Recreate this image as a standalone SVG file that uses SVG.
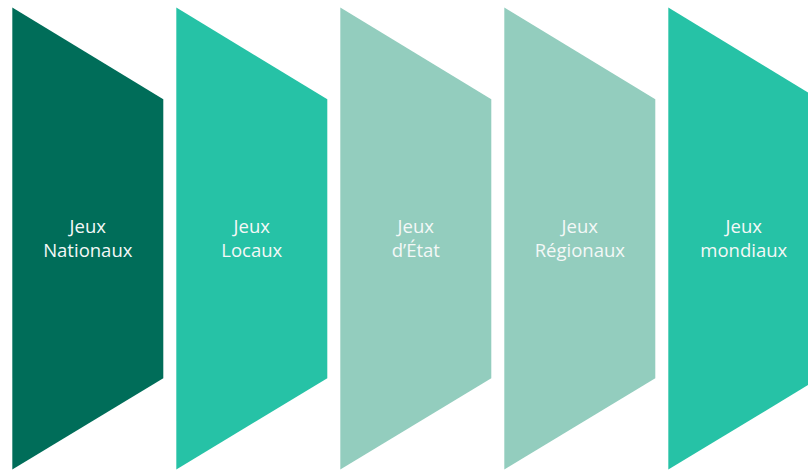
<svg xmlns="http://www.w3.org/2000/svg" width="808" height="470" viewBox="0 0 808 470">
<style>
text{font-family:"Open Sans","Liberation Sans",sans-serif;font-weight:400;font-size:18.5px;fill:#F4F8F7;text-anchor:middle}
.d{fill:#006D59}.t{fill:#26C2A6}.l{fill:#93CDBE}
</style>
<rect width="808" height="470" fill="#FFFFFF"/>
<g id="n1"><polygon class="d" points="12.3,7.5 163.3,99.3 163.3,378.3 12.3,469.5"/><text x="87.8" y="232.5">Jeux</text><text x="87.8" y="256.5">Nationaux</text></g>
<g id="n2"><polygon class="t" points="176.3,7.5 327.3,99.3 327.3,378.3 176.3,469.5"/><text x="251.8" y="232.5">Jeux</text><text x="251.8" y="256.5">Locaux</text></g>
<g id="n3"><polygon class="l" points="340.3,7.5 491.3,99.3 491.3,378.3 340.3,469.5"/><text x="415.8" y="232.5">Jeux</text><text x="415.8" y="256.5">d’État</text></g>
<g id="n4"><polygon class="l" points="504.3,7.5 655.3,99.3 655.3,378.3 504.3,469.5"/><text x="579.8" y="232.5">Jeux</text><text x="579.8" y="256.5">Régionaux</text></g>
<g id="n5"><polygon class="t" points="668.3,7.5 819.3,99.3 819.3,378.3 668.3,469.5"/><text x="743.8" y="232.5">Jeux</text><text x="743.8" y="256.5">mondiaux</text></g>
<g id="connectors"></g>
</svg>
